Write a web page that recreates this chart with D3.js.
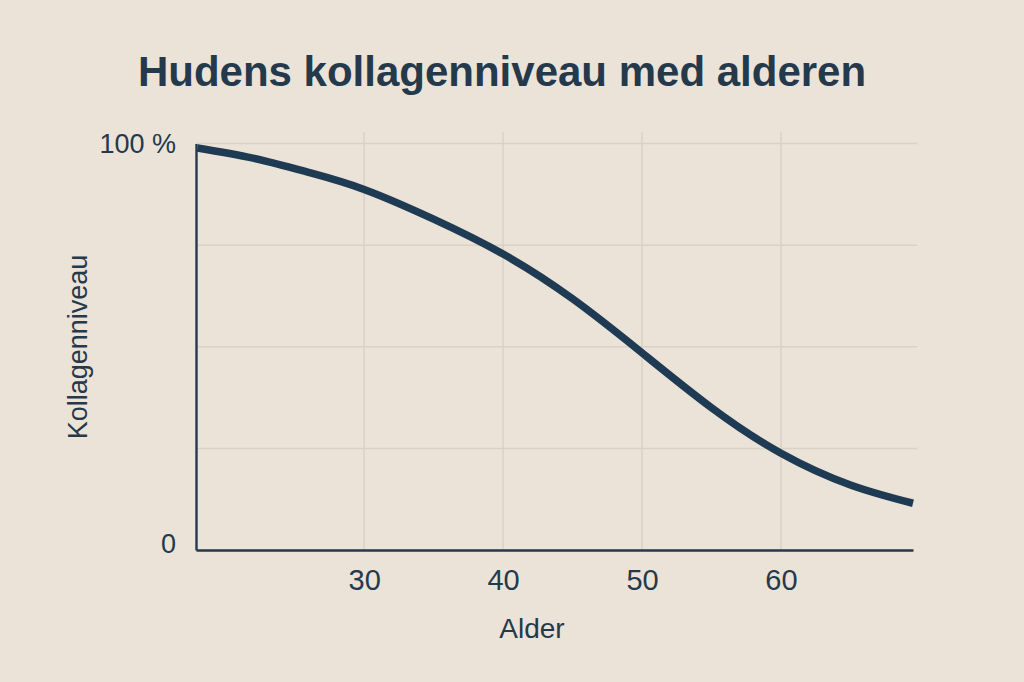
<!DOCTYPE html>
<html>
<head>
<meta charset="utf-8">
<script src="https://cdn.jsdelivr.net/npm/d3@7"></script>
<style>
  html, body { margin: 0; padding: 0; background: #ebe3d7; }
  svg { display: block; }
</style>
</head>
<body>
<svg id="chart" width="1024" height="682"></svg>
<script>
// values
const ages = [18, 22, 26, 30, 35, 40, 45, 50, 55, 60, 65, 69.5];
const collagen = [98.9, 96.4, 92.9, 88.7, 81.4, 72.8, 61.8, 48.5, 35.0, 23.8, 16.0, 11.5];
const xTicks = [30, 40, 50, 60];
const yGrid = [25, 50, 75, 100];
const yTicks = [0, 100];

const width = 1024;
const height = 682;
const marginLeft = 196;
const marginRight = 111;   // plot ends at x = 913
const marginTop = 143.5;
const marginBottom = 132;  // axis at y = 550

const ink = "#25394d";
const lineColor = "#1f3a53";
const gridColor = "#dbd1c4";
const font = "Liberation Sans, Arial, sans-serif";

const svg = d3.select("#chart");

const data = ages.map((a, i) => ({ age: a, value: collagen[i] }));

const x = d3.scaleLinear()
    .domain([17.9, 69.5])
    .range([marginLeft, width - marginRight]);

const y = d3.scaleLinear()
    .domain([0, 100])
    .range([height - marginBottom, marginTop]);

// title
svg.append("text")
    .attr("x", 502)
    .attr("y", 86)
    .attr("text-anchor", "middle")
    .attr("font-family", font)
    .attr("font-weight", "bold")
    .attr("font-size", 42)
    .attr("fill", ink)
    .text("Hudens kollagenniveau med alderen");

// grid
svg.append("g")
    .selectAll("line")
    .data(xTicks)
    .join("line")
    .attr("x1", d => x(d))
    .attr("x2", d => x(d))
    .attr("y1", 132)
    .attr("y2", y(0))
    .attr("stroke", gridColor)
    .attr("stroke-width", 1.5);

svg.append("g")
    .selectAll("line")
    .data(yGrid)
    .join("line")
    .attr("x1", x.range()[0])
    .attr("x2", 917)
    .attr("y1", d => y(d))
    .attr("y2", d => y(d))
    .attr("stroke", gridColor)
    .attr("stroke-width", 1.5);

// x axis
svg.append("g")
    .attr("transform", `translate(0,${y(0)})`)
    .call(d3.axisBottom(x).tickValues(xTicks).tickSize(0).tickSizeOuter(0).tickPadding(19))
    .call(g => g.select(".domain").attr("stroke", ink).attr("stroke-width", 2.6))
    .call(g => g.selectAll(".tick text")
        .attr("font-family", font)
        .attr("font-size", 29)
        .attr("fill", ink));

// y axis
svg.append("g")
    .attr("transform", `translate(${x.range()[0]},0)`)
    .call(d3.axisLeft(y).tickValues(yTicks).tickSize(0).tickSizeOuter(0).tickPadding(20)
        .tickFormat(d => d === 100 ? "100 %" : "0"))
    .call(g => g.select(".domain").attr("stroke", ink).attr("stroke-width", 2.4))
    .call(g => g.selectAll(".tick text")
        .attr("font-family", font)
        .attr("font-size", 27)
        .attr("fill", ink))
    .call(g => g.selectAll(".tick").filter(d => d === 0).select("text").attr("dy", "0.1em"));

// axis titles
svg.append("text")
    .attr("x", 532)
    .attr("y", 638)
    .attr("text-anchor", "middle")
    .attr("font-family", font)
    .attr("font-size", 28)
    .attr("fill", ink)
    .text("Alder");

svg.append("text")
    .attr("transform", "translate(87,347) rotate(-90)")
    .attr("text-anchor", "middle")
    .attr("font-family", font)
    .attr("font-size", 27)
    .attr("fill", ink)
    .text("Kollagenniveau");

// curve
const line = d3.line()
    .x(d => x(d.age))
    .y(d => y(d.value))
    .curve(d3.curveNatural);

svg.append("path")
    .datum(data)
    .attr("fill", "none")
    .attr("stroke", lineColor)
    .attr("stroke-width", 7.5)
    .attr("d", line);
</script>
</body>
</html>
